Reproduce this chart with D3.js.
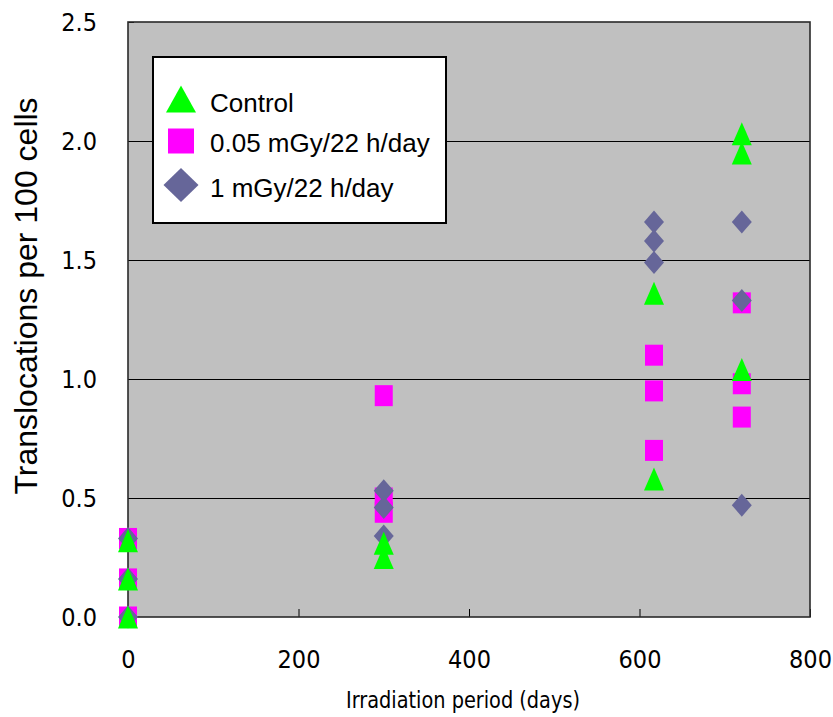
<!DOCTYPE html>
<html>
<head>
<meta charset="utf-8">
<script src="https://cdn.jsdelivr.net/npm/d3@7/dist/d3.min.js"></script>
<style>
  html, body { margin: 0; padding: 0; background: #ffffff; }
  svg { display: block; }
</style>
</head>
<body>
<svg id="chart" width="833" height="717"></svg>
<script>
// ---------------- data ----------------
const seriesNames = ["Control", "0.05 mGy/22 h/day", "1 mGy/22 h/day"];
const controlDays   = [0, 0, 0, 300, 300, 617, 617, 720, 720, 720];
const controlValues = [0.32, 0.16, 0.00, 0.31, 0.25, 1.36, 0.58, 2.03, 1.95, 1.04];
const lowDays       = [0, 0, 0, 300, 300, 300, 617, 617, 617, 720, 720, 720];
const lowValues     = [0.33, 0.16, 0.00, 0.93, 0.50, 0.44, 1.10, 0.95, 0.70, 1.32, 0.98, 0.84];
const highDays      = [0, 0, 0, 300, 300, 300, 617, 617, 617, 720, 720, 720];
const highValues    = [0.33, 0.16, 0.00, 0.53, 0.46, 0.34, 1.66, 1.58, 1.49, 1.66, 1.33, 0.47];
const xTicks = [0, 200, 400, 600, 800];
const yTicks = [0, 0.5, 1.0, 1.5, 2.0, 2.5];
const xTitle = "Irradiation period (days)";
const yTitle = "Translocations per 100 cells";

(function () {
// ---------------- layout ----------------
const svg = d3.select("#chart");
const pLeft = 128, pRight = 810, pTop = 22, pBottom = 617;
const x = d3.scaleLinear().domain([0, 800]).range([pLeft, pRight]);
const y = d3.scaleLinear().domain([0, 2.5]).range([pBottom, pTop]);

const tickFont = "'Liberation Sans Narrow', 'DejaVu Sans Condensed', 'Arial Narrow', sans-serif";
const textFont = "'Liberation Sans', Arial, Helvetica, sans-serif";

// plot background
svg.append("rect")
  .attr("x", pLeft).attr("y", pTop)
  .attr("width", pRight - pLeft).attr("height", pBottom - pTop)
  .attr("fill", "#c0c0c0");

// gridlines
svg.append("g").selectAll("line")
  .data(yTicks.filter(v => v > 0 && v < 2.5))
  .join("line")
  .attr("x1", pLeft).attr("x2", pRight)
  .attr("y1", d => Math.round(y(d)) + 0.5).attr("y2", d => Math.round(y(d)) + 0.5)
  .attr("stroke", "#000").attr("stroke-width", 1);

// axes
const xAxis = svg.append("g")
  .attr("transform", `translate(0,${pBottom})`)
  .call(d3.axisBottom(x).tickValues(xTicks).tickSizeInner(-8).tickSizeOuter(0).tickPadding(33));
xAxis.select(".domain").remove();
xAxis.selectAll("line").attr("stroke", "#000");
xAxis.selectAll("text")
  .attr("font-family", tickFont).attr("font-stretch", "condensed")
  .attr("font-size", 25).attr("fill", "#000");

const yAxis = svg.append("g")
  .attr("transform", `translate(${pLeft},0)`)
  .call(d3.axisLeft(y).tickValues(yTicks).tickFormat(d3.format(".1f")).tickSizeInner(-6).tickSizeOuter(0).tickPadding(31));
yAxis.select(".domain").remove();
yAxis.selectAll("line").attr("stroke", "#000");
yAxis.selectAll("text")
  .attr("font-family", tickFont).attr("font-stretch", "condensed")
  .attr("font-size", 25).attr("fill", "#000");

// plot border
svg.append("rect")
  .attr("x", pLeft).attr("y", pTop)
  .attr("width", pRight - pLeft).attr("height", pBottom - pTop)
  .attr("fill", "none").attr("stroke", "#2a2a2a").attr("stroke-width", 1.6);

// ---------------- markers ----------------
function triPath(w, h) { return `M0,${-h/2}L${w/2},${h/2}L${-w/2},${h/2}Z`; }
function sqPath(w, h) { return `M${-w/2},${-h/2}H${w/2}V${h/2}H${-w/2}Z`; }
function diaPath(w, h) { return `M0,${-h/2}L${w/2},0L0,${h/2}L${-w/2},0Z`; }

const series = [
  { name: seriesNames[1], days: lowDays, values: lowValues, color: "#ff00ff", path: sqPath(18, 21), legendPath: sqPath(26, 25) },
  { name: seriesNames[2], days: highDays, values: highValues, color: "#666699", path: diaPath(20, 23), legendPath: diaPath(35, 34) },
  { name: seriesNames[0], days: controlDays, values: controlValues, color: "#00ff00", path: triPath(20, 23), legendPath: triPath(30, 27) }
];

series.forEach(s => {
  svg.append("g").selectAll("path")
    .data(s.values.map((v, i) => ({ d: s.days[i], v })))
    .join("path")
    .attr("d", s.path)
    .attr("transform", p => `translate(${x(p.d)},${y(p.v)})`)
    .attr("fill", s.color);
});

// ---------------- legend ----------------
const lg = svg.append("g");
lg.append("rect")
  .attr("x", 153).attr("y", 57).attr("width", 293).attr("height", 166)
  .attr("fill", "#fff").attr("stroke", "#000").attr("stroke-width", 2);
const legendOrder = [series[2], series[0], series[1]];
const legendRows = [99, 141, 185];
const legendText = [112, 152, 197];
legendOrder.forEach((s, i) => {
  lg.append("path").attr("d", s.legendPath)
    .attr("transform", `translate(181,${legendRows[i]})`)
    .attr("fill", s.color);
  lg.append("text")
    .attr("x", 210).attr("y", legendText[i])
    .attr("font-family", textFont).attr("font-size", 26).attr("fill", "#000")
    .text(s.name);
});

// ---------------- titles ----------------
svg.append("text")
  .attr("x", 463).attr("y", 708)
  .attr("text-anchor", "middle")
  .attr("font-family", tickFont).attr("font-stretch", "condensed")
  .attr("font-size", 23).attr("fill", "#000")
  .attr("textLength", 234).attr("lengthAdjust", "spacingAndGlyphs")
  .text(xTitle);

svg.append("text")
  .attr("transform", "translate(37,296) rotate(-90)")
  .attr("text-anchor", "middle")
  .attr("font-family", textFont).attr("font-size", 32).attr("fill", "#000")
  .text(yTitle);
})();
</script>
</body>
</html>
